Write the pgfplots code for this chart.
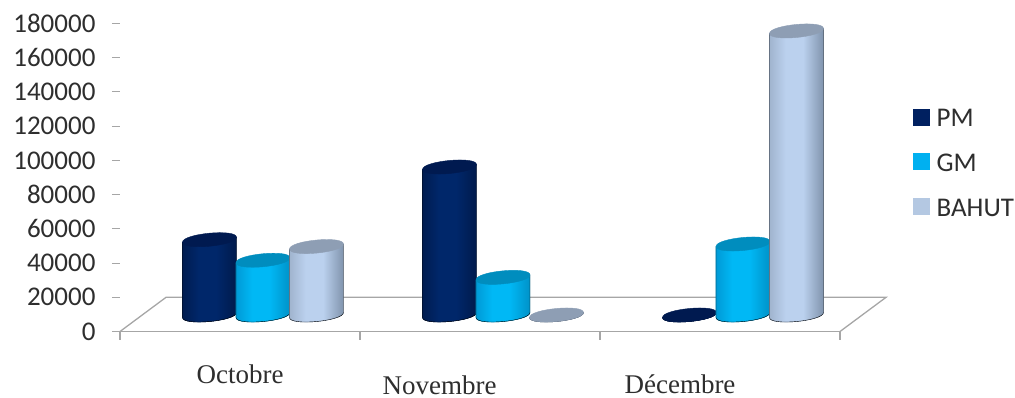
\documentclass[border=0pt]{standalone}
\usepackage{fontspec}
\setmainfont{Carlito}
\newfontfamily\catfont{Liberation Serif}
\usepackage{pgfplots}
\pgfplotsset{compat=1.18}

\definecolor{pmL}{HTML}{001C50}\definecolor{pmM}{HTML}{00276A}\definecolor{pmR}{HTML}{001A4C}\definecolor{pmT}{HTML}{001A50}
\definecolor{gmL}{HTML}{009AD6}\definecolor{gmM}{HTML}{00B8F5}\definecolor{gmR}{HTML}{0092C8}\definecolor{gmT}{HTML}{008DBE}
\definecolor{baL}{HTML}{A0B4CE}\definecolor{baM}{HTML}{BBD1EE}\definecolor{baR}{HTML}{8094AD}\definecolor{baT}{HTML}{8E9EB4}
\definecolor{axisgray}{HTML}{A6A6A6}
\definecolor{labelgray}{HTML}{2E2E2E}
\definecolor{pmKey}{HTML}{002060}\definecolor{gmKey}{HTML}{00B0F0}\definecolor{baKey}{HTML}{B4C8E2}

% Round-body shadings: dark rims, a bright band in the middle
\pgfdeclarehorizontalshading{cylpm}{100bp}{color(0bp)=(pmL); color(25bp)=(pmL); color(40bp)=(pmM); color(56bp)=(pmM); color(75bp)=(pmR); color(100bp)=(pmR)}
\pgfdeclarehorizontalshading{cylgm}{100bp}{color(0bp)=(gmL); color(25bp)=(gmL); color(40bp)=(gmM); color(56bp)=(gmM); color(75bp)=(gmR); color(100bp)=(gmR)}
\pgfdeclarehorizontalshading{cylba}{100bp}{color(0bp)=(baL); color(25bp)=(baL); color(40bp)=(baM); color(56bp)=(baM); color(75bp)=(baR); color(100bp)=(baR)}

\pgfdeclareplotmark{nothing}{}

% One series of upright cylinders: body shading, cap colour, sideways offset in pt, rim colour
\pgfplotsset{
  cylinders/.style n args={4}{
    only marks, scatter, mark=nothing, point meta=y,
    visualization depends on={rawy \as \barval},
    scatter/@pre marker code/.code={%
      \edef\h{\fpeval{\barval/180000*308}}%
      \edef\xl{\fpeval{#3-27}}%
      \edef\xr{\fpeval{#3+27}}%
      \def\bodypath{(\xl pt,-2.5pt) -- (\xl pt,-\h pt-2.5pt)
        .. controls (\xl pt,-\h pt-11.2pt) and (\xr pt,-\h pt-6.2pt) .. (\xr pt,-\h pt+2.5pt)
        -- (\xr pt,2.5pt) -- cycle}%
      \fill[#4] \bodypath;
      \path[shade, shading=#1] \bodypath;
      \fill[#2] (\xl pt,-2.5pt)
        .. controls (\xl pt,6.2pt) and (\xr pt,11.2pt) .. (\xr pt,2.5pt)
        .. controls (\xr pt,-6.2pt) and (\xl pt,-11.2pt) .. cycle;
    },
    scatter/@post marker code/.code={},
  }
}

\begin{document}
\begin{tikzpicture}
\path[use as bounding box] (0,0) rectangle (1015pt,397pt);

% Value scale, floor of the chart and legend
\begin{axis}[
  at={(120pt,65.5pt)}, anchor=south west,
  scale only axis, width=720pt, height=308pt,
  xmin=0, xmax=3, ymin=0, ymax=180000,
  axis x line=bottom, axis y line=left,
  x axis line style={-, draw=axisgray, line width=1.3pt},
  y axis line style={draw=none},
  xtick={0,1,2,3}, xticklabels={},
  ytick={0,20000,...,180000},
  scaled y ticks=false,
  tick style={draw=axisgray, line width=1.1pt},
  tick align=outside,
  major tick length=8pt,
  y tick label style={font=\fontsize{27}{28}\selectfont, text=labelgray, xshift=-13pt},
  yticklabel style={/pgf/number format/fixed, /pgf/number format/1000 sep={}, /pgf/number format/assume math mode=true},
  clip=false,
  legend style={at={(793pt,223pt)}, anchor=north west, draw=none, fill=none,
    font=\fontsize{27}{28}\selectfont, text=labelgray,
    /tikz/every odd column/.style={column sep=7pt},
    row sep=26.5pt, inner sep=0pt, nodes={inner sep=0pt, text height=17pt, text depth=0pt}},
  legend cell align=left,
  legend image code/.code={\fill[#1] (0pt,-6.5pt) rectangle (16pt,9.5pt);},
]
  \draw[axisgray, line width=1.3pt]
    (axis cs:0,0) -- (axis cs:0.192,20000) -- (axis cs:3.192,20000) -- (axis cs:3,0);
  \addlegendimage{pmKey}\addlegendentry{PM}
  \addlegendimage{gmKey}\addlegendentry{GM}
  \addlegendimage{baKey}\addlegendentry{BAHUT}
\end{axis}

% Cylinders: value 0 sits on the middle of the floor, months at 0, 1, 2
\begin{axis}[
  at={(120pt,65.5pt)}, anchor=south west,
  scale only axis, width=720pt, height=308pt,
  xmin=-0.5958, xmax=2.4042, ymin=-9640, ymax=170360,
  hide axis, clip=false,
]
  \addplot[cylinders={cylpm}{pmT}{-53.5}{pmM}] coordinates {(0,44000) (1,86500) (2,0)};
  \addplot[cylinders={cylgm}{gmT}{0}{gmM}] coordinates {(0,32000) (1,22000) (2,41500)};
  \addplot[cylinders={cylba}{baT}{53.5}{baM}] coordinates {(0,40000) (1,0) (2,166000)};
\end{axis}

% Month names
\node[inner sep=0pt, font=\catfont\fontsize{27}{28}\selectfont, text=labelgray] at (240pt,23pt) {Octobre};
\node[inner sep=0pt, font=\catfont\fontsize{27}{28}\selectfont, text=labelgray] at (439.5pt,12pt) {Novembre};
\node[inner sep=0pt, font=\catfont\fontsize{27}{28}\selectfont, text=labelgray] at (680pt,13pt) {Décembre};
\end{tikzpicture}
\end{document}
